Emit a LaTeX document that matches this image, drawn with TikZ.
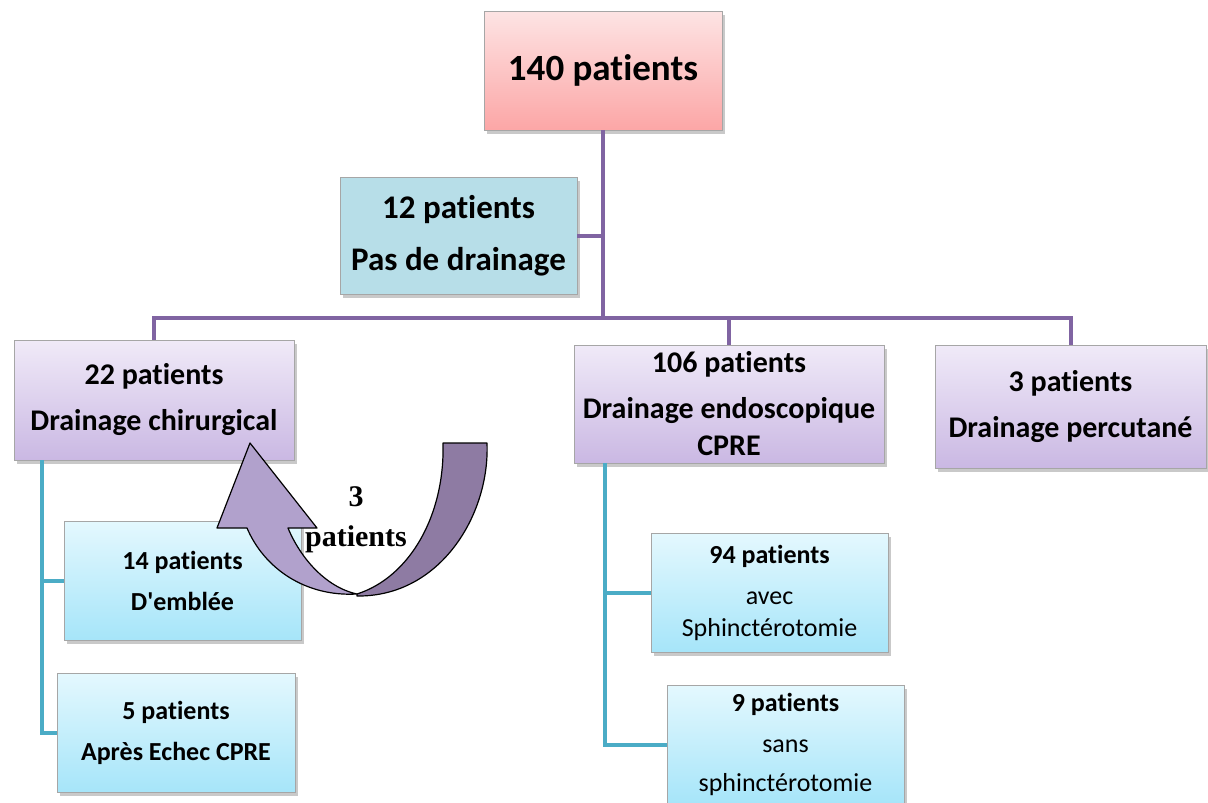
\documentclass[tikz,border=0pt]{standalone}
\usepackage{fontspec}
\setmainfont{Carlito}[Ligatures={TeXOff,CommonOff}]
\newfontfamily\tnr{Liberation Serif}
\usetikzlibrary{shadows}
\definecolor{plink}{HTML}{8064A2}
\definecolor{tlink}{HTML}{4BACC6}
\definecolor{pinktop}{HTML}{FDE4E4}
\definecolor{pinkbot}{HTML}{FCA6A6}
\definecolor{blue12}{HTML}{B7DEE8}
\definecolor{lavtop}{HTML}{F0EAF8}
\definecolor{lavbot}{HTML}{CAB8E3}
\definecolor{cyantop}{HTML}{E4F8FE}
\definecolor{cyanbot}{HTML}{A6E5F9}
\definecolor{arrlight}{HTML}{B1A1CC}
\definecolor{arrdark}{HTML}{8E7BA3}
\tikzset{
  boxbase/.style={draw=black!35, line width=0.8pt, align=center, inner sep=0pt,
    drop shadow={shadow xshift=3pt, shadow yshift=-4pt, opacity=0.3, fill=black!70}},
  topbox/.style={boxbase, top color=pinktop, bottom color=pinkbot,
    minimum width=238pt, minimum height=119pt, font=\bfseries\fontsize{37}{44}\selectfont},
  nobox/.style={boxbase, fill=blue12, minimum width=237pt, minimum height=117pt,
    font=\bfseries\fontsize{33}{52}\selectfont},
  lavbox/.style={boxbase, top color=lavtop, bottom color=lavbot,
    font=\bfseries\fontsize{30}{46}\selectfont},
  cyanbox/.style={boxbase, top color=cyantop, bottom color=cyanbot,
    minimum width=237pt, minimum height=119pt, font=\fontsize{26}{41}\selectfont},
  plinkline/.style={draw=plink, line width=4pt},
  tlinkline/.style={draw=tlink, line width=4pt},
  arrowpiece/.style={draw=black, line width=1.2pt, line join=round},
  arrtext/.style={font=\tnr\bfseries\fontsize{30}{43}\selectfont, inner sep=0pt}
}
\begin{document}
\begin{tikzpicture}[x=1pt, y=-1pt]
\useasboundingbox (0,0) rectangle (1208,803);
% top-level boxes
\node[topbox] (n140) at (603,70.5) {140 patients};
\node[nobox] (n12) at (458.5,235.5) {12 patients\\Pas de drainage};
\node[lavbox, minimum width=280pt, minimum height=120pt] (n22) at (154,400) {22 patients\\Drainage chirurgical};
\node[lavbox, minimum width=310pt, minimum height=118pt] (n106) at (729,404) {106 patients\\Drainage endoscopique\\[-9pt]CPRE};
\node[lavbox, minimum width=271pt, minimum height=123pt] (n3) at (1070.5,406.5) {3 patients\\Drainage percutané};
% sub boxes
\node[cyanbox] (n14) at (182.5,580.5) {\textbf{14 patients}\\\textbf{D'emblée}};
\node[cyanbox, minimum width=238pt] (n5) at (176,732.5) {\textbf{5 patients}\\\textbf{Après Echec CPRE}};
\node[cyanbox] (n94) at (769.5,592.5) {\textbf{94 patients}\\avec\\[-9pt]Sphinctérotomie};
\node[cyanbox] (n9) at (785.5,744.5) {\textbf{9 patients}\\sans\\[-2pt]sphinctérotomie};
% purple connectors
\coordinate (bus) at (603,318);
\draw[plinkline] (n140.south) -- (bus);
\draw[plinkline] (n12.east) -- (n12.east -| n140.south);
\draw[plinkline] (n22.north) |- (bus) -| (n3.north);
\draw[plinkline] (n106.north) -- (n106.north |- bus);
% teal connectors
\coordinate (lt) at (42,733);
\coordinate (rt) at (605,743);
\draw[tlinkline] (n22.south -| lt) |- (n5.west);
\draw[tlinkline] (n14.west) -- (n14.west -| lt);
\draw[tlinkline] (n106.south -| rt) |- (n9.west);
\draw[tlinkline] (n94.west) -- (n94.west -| rt);
% curved arrow
\draw[arrowpiece, fill=arrdark] (357,594) .. controls (410,577) and (445,515) .. (443,443)
  -- (487,443) .. controls (490,515) and (440,597) .. (357,596) -- cycle;
\draw[arrowpiece, fill=arrlight] (250,443) -- (317,528) -- (288,528)
  .. controls (300,557) and (325,587) .. (357,594)
  .. controls (305,597) and (264,568) .. (247,528) -- (217,528) -- cycle;
\node[arrtext] (t3) at (356,497) {3};
\node[arrtext] (tp) at (356,539) {patients};
\end{tikzpicture}
\end{document}
